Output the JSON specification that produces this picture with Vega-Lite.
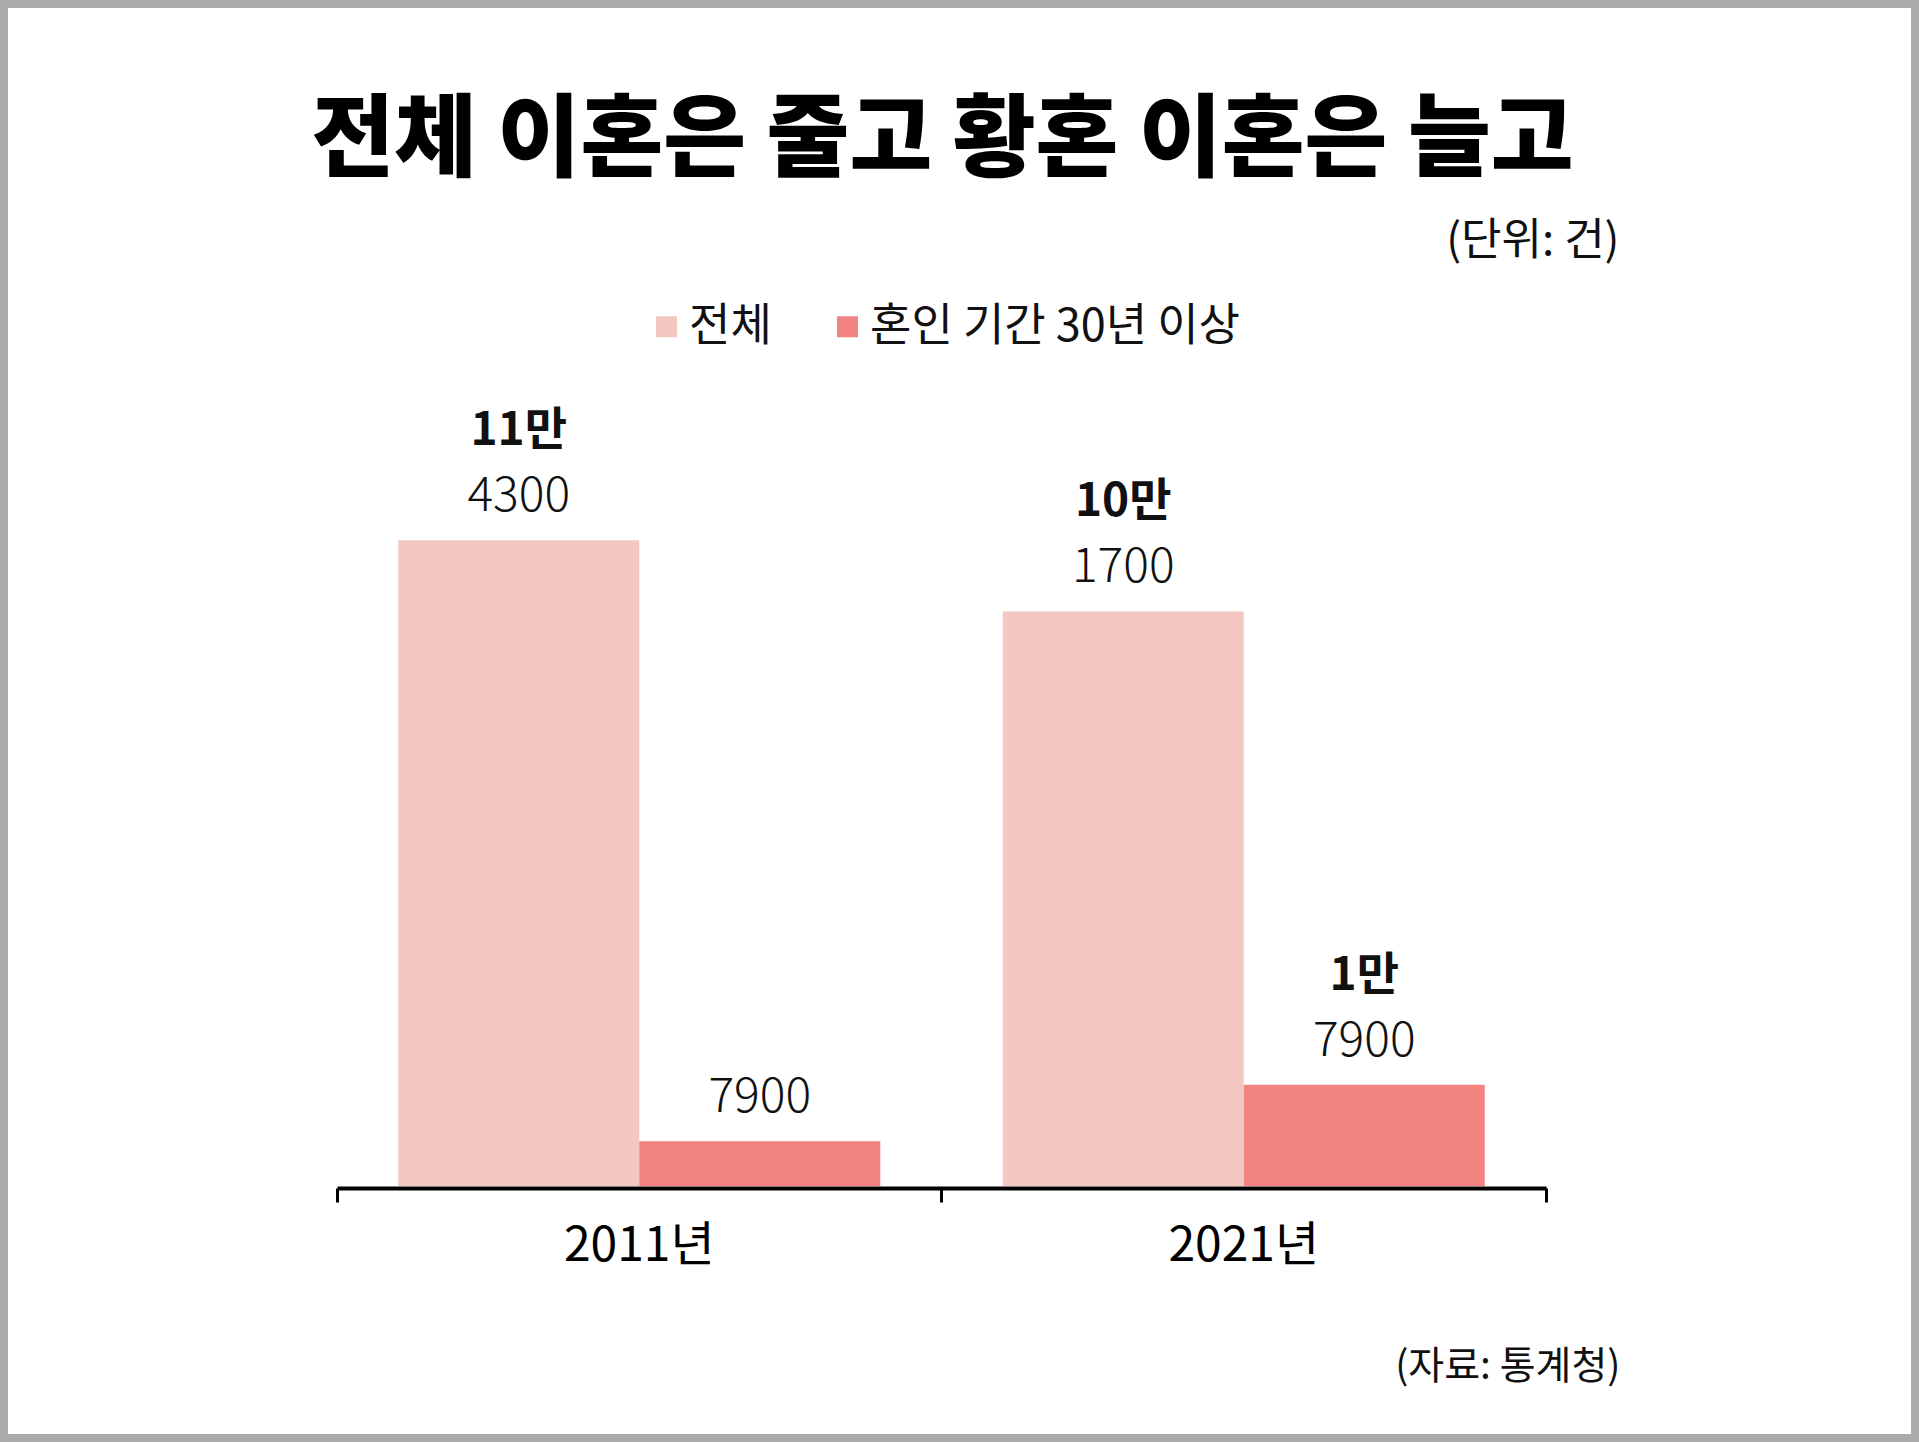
{
  "$schema": "https://vega.github.io/schema/vega-lite/v6.json",
  "width": 1919,
  "height": 1442,
  "autosize": {"type": "none"},
  "padding": 0,
  "background": "white",
  "title": {
    "text": "전체 이혼은 줄고 황혼 이혼은 늘고",
    "font": "Noto Sans CJK KR",
    "fontSize": 90,
    "fontWeight": 900,
    "color": "#000000",
    "anchor": "middle",
    "frame": "group",
    "baseline": "alphabetic",
    "offset": -259,
    "dx": -17
  },
  "data": {
    "values": [
      {"year": "2011년", "series": "전체", "count": 114300},
      {"year": "2011년", "series": "혼인 기간 30년 이상", "count": 7900},
      {"year": "2021년", "series": "전체", "count": 101700},
      {"year": "2021년", "series": "혼인 기간 30년 이상", "count": 17900}
    ]
  },
  "transform": [
    {"calculate": "datum.count >= 10000 ? floor(datum.count / 10000) + '만' : ''", "as": "man"},
    {"calculate": "'' + (datum.count % 10000)", "as": "rest"}
  ],
  "encoding": {
    "x": {
      "field": "year",
      "type": "nominal",
      "sort": ["2011년", "2021년"],
      "scale": {"range": [337, 1546], "paddingInner": 0, "paddingOuter": 0},
      "axis": {
        "title": "(자료: 통계청)",
        "titleX": 1620,
        "titleY": 190,
        "titleAlign": "right",
        "titleBaseline": "alphabetic",
        "titleFont": "Noto Sans CJK KR",
        "titleFontSize": 39,
        "titleFontWeight": "normal",
        "titleColor": "#111111",
        "offset": -254,
        "domainColor": "#000000",
        "domainWidth": 4,
        "tickColor": "#000000",
        "tickWidth": 3,
        "tickSize": 14,
        "bandPosition": 1,
        "tickExtra": true,
        "labelAngle": 0,
        "labelFont": "Noto Sans CJK KR",
        "labelFontSize": 48,
        "labelColor": "#000000",
        "labelBaseline": "alphabetic",
        "labelPadding": 58,
        "grid": false
      }
    },
    "xOffset": {
      "field": "series",
      "type": "nominal",
      "sort": ["전체", "혼인 기간 30년 이상"],
      "scale": {"paddingInner": 0, "paddingOuter": 0.254}
    },
    "y": {
      "field": "count",
      "type": "quantitative",
      "scale": {"domain": [-45310, 209912], "nice": false, "zero": false},
      "axis": {
        "title": "(단위: 건)",
        "orient": "left",
        "labels": false,
        "ticks": false,
        "domain": false,
        "grid": false,
        "titleAngle": 0,
        "titleX": 1619,
        "titleY": 254,
        "titleAlign": "right",
        "titleBaseline": "alphabetic",
        "titleFont": "Noto Sans CJK KR",
        "titleFontSize": 44,
        "titleFontWeight": "normal",
        "titleColor": "#111111"
      }
    }
  },
  "layer": [
    {
      "mark": {"type": "bar"},
      "encoding": {
        "y2": {"datum": 0},
        "color": {
          "field": "series",
          "type": "nominal",
          "sort": ["전체", "혼인 기간 30년 이상"],
          "scale": {"domain": ["전체", "혼인 기간 30년 이상"], "range": ["#F4C8C2", "#F18381"]},
          "legend": {
            "orient": "none",
            "legendX": 644,
            "legendY": 304,
            "direction": "horizontal",
            "title": null,
            "symbolType": "square",
            "symbolSize": 441,
            "symbolStrokeWidth": 0,
            "symbolOpacity": 1,
            "labelFont": "Noto Sans CJK KR",
            "labelFontSize": 45,
            "labelColor": "#111111",
            "labelOffset": 0,
            "columnPadding": 53,
            "labelLimit": 1000
          }
        }
      }
    },
    {
      "mark": {"type": "text", "baseline": "alphabetic", "dy": -29, "font": "Noto Sans CJK KR", "fontSize": 48, "fontWeight": 300, "color": "#111111"},
      "encoding": {"text": {"field": "rest"}}
    },
    {
      "mark": {"type": "text", "baseline": "alphabetic", "dy": -95, "font": "Noto Sans CJK KR", "fontSize": 46, "fontWeight": "bold", "color": "#111111"},
      "encoding": {"text": {"field": "man"}}
    }
  ],
  "config": {
    "font": "Noto Sans CJK KR",
    "view": {"fill": "white", "stroke": "#aaaaaa", "strokeWidth": 16}
  }
}
